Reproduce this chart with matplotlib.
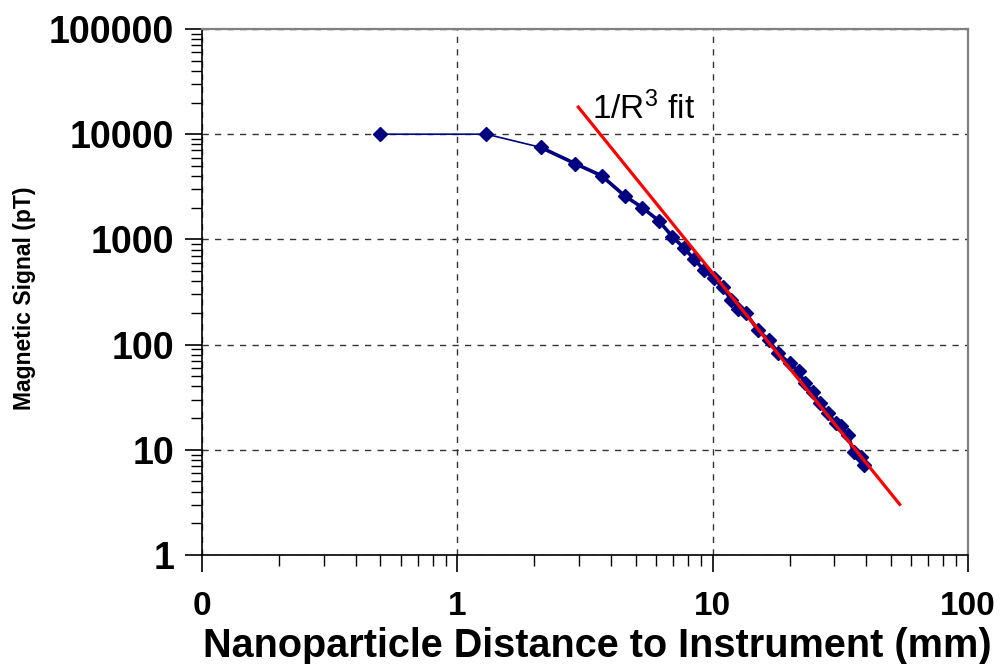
import numpy as np
import matplotlib
matplotlib.use('Agg')
import matplotlib.pyplot as plt
from matplotlib.ticker import FixedLocator, FixedFormatter, LogLocator, NullFormatter

plt.rcParams['font.family'] = ['Liberation Sans', 'DejaVu Sans']
plt.rcParams['mathtext.fontset'] = 'custom'
plt.rcParams['mathtext.rm'] = 'Liberation Sans'
plt.rcParams['mathtext.it'] = 'Liberation Sans:italic'
plt.rcParams['mathtext.bf'] = 'Liberation Sans:bold'

DIST_MM = [0.5, 1.3, 2.12, 2.90, 3.67, 4.52, 5.31, 6.14, 6.96, 7.69, 8.42, 9.22,
           10.1, 10.95, 11.8, 12.6, 13.5, 15.0, 16.6, 18.1, 20.0, 21.7, 23.0,
           24.7, 26.3, 28.3, 30.4, 31.8, 33.8, 35.7, 38.0, 39.1]
SIGNAL_PT = [10000, 10000, 7500, 5240, 4030, 2600, 2000, 1510, 1060, 836, 657, 517,
             425, 349, 268, 220, 198, 139, 110, 82.5, 66.4, 55.7, 42.9,
             35.2, 27.7, 22.2, 17.9, 16.7, 13.8, 9.5, 8.5, 7.1]

# 1/R^3 fit line end points
FIT_X = [2.95, 54.5]
FIT_Y = [18600, 2.95]

X_TICKS = [0.1, 1, 10, 100]
X_TICK_LABELS = ['0', '1', '10', '100']
Y_TICKS = [1, 10, 100, 1000, 10000, 100000]
Y_TICK_LABELS = ['1', '10', '100', '1000', '10000', '100000']

fig = plt.figure(figsize=(10.06, 6.64), dpi=100)
ax = fig.add_axes([202 / 1006, 1 - 555 / 664, (968 - 202) / 1006, (555 - 29) / 664])
ax.set_xscale('log')
ax.set_yscale('log')
ax.set_xlim(0.1, 100)
ax.set_ylim(1, 100000)

navy = '#000080'
ax.plot(DIST_MM[:3], SIGNAL_PT[:3], color=navy, lw=1.2, zorder=3)
ax.plot(DIST_MM[2:], SIGNAL_PT[2:], color=navy, lw=2.6, zorder=3)
ax.plot(DIST_MM, SIGNAL_PT, ls='none', marker='D', ms=6.8, color=navy, mec=navy, zorder=4)
ax.plot(FIT_X, FIT_Y, color='#ff0000', lw=2.3, zorder=5, solid_capstyle='butt')

ax.text(3.38, 14000, '1/R$^{3}$ fit', fontsize=24, va='baseline', ha='left')

ax.xaxis.set_major_locator(FixedLocator(X_TICKS))
ax.xaxis.set_major_formatter(FixedFormatter(X_TICK_LABELS))
ax.yaxis.set_major_locator(FixedLocator(Y_TICKS))
ax.yaxis.set_major_formatter(FixedFormatter(Y_TICK_LABELS))
for axis in (ax.xaxis, ax.yaxis):
    axis.set_minor_locator(LogLocator(base=10, subs=np.arange(2, 10)))
    axis.set_minor_formatter(NullFormatter())

ax.tick_params(which='major', direction='out', length=12, width=1.2, color='black')
ax.tick_params(which='minor', direction='out', length=8, width=1.0, color='black')
ax.tick_params(axis='x', which='major', pad=14, labelsize=24)
ax.tick_params(axis='y', which='major', pad=8, labelsize=27)
for lab in ax.get_xticklabels() + ax.get_yticklabels():
    lab.set_fontweight('bold')

ax.grid(True, which='major', color='#333333', lw=1.0, ls=(0, (4.5, 4.5)))
ax.set_axisbelow(True)

for side in ('left', 'bottom'):
    ax.spines[side].set_color('black')
    ax.spines[side].set_linewidth(1.2)
for side in ('top', 'right'):
    ax.spines[side].set_color('#808080')
    ax.spines[side].set_linewidth(1.6)

fig.text(25 / 1006, 1 - 298 / 664, 'Magnetic Signal (pT)', rotation=90,
         ha='center', va='center', fontsize=16.5, fontweight='bold')
fig.text(597 / 1006, 1 - 646 / 664, 'Nanoparticle Distance to Instrument (mm)',
         ha='center', va='center', fontsize=28.5, fontweight='bold')

fig.savefig('out.png', dpi=100)
